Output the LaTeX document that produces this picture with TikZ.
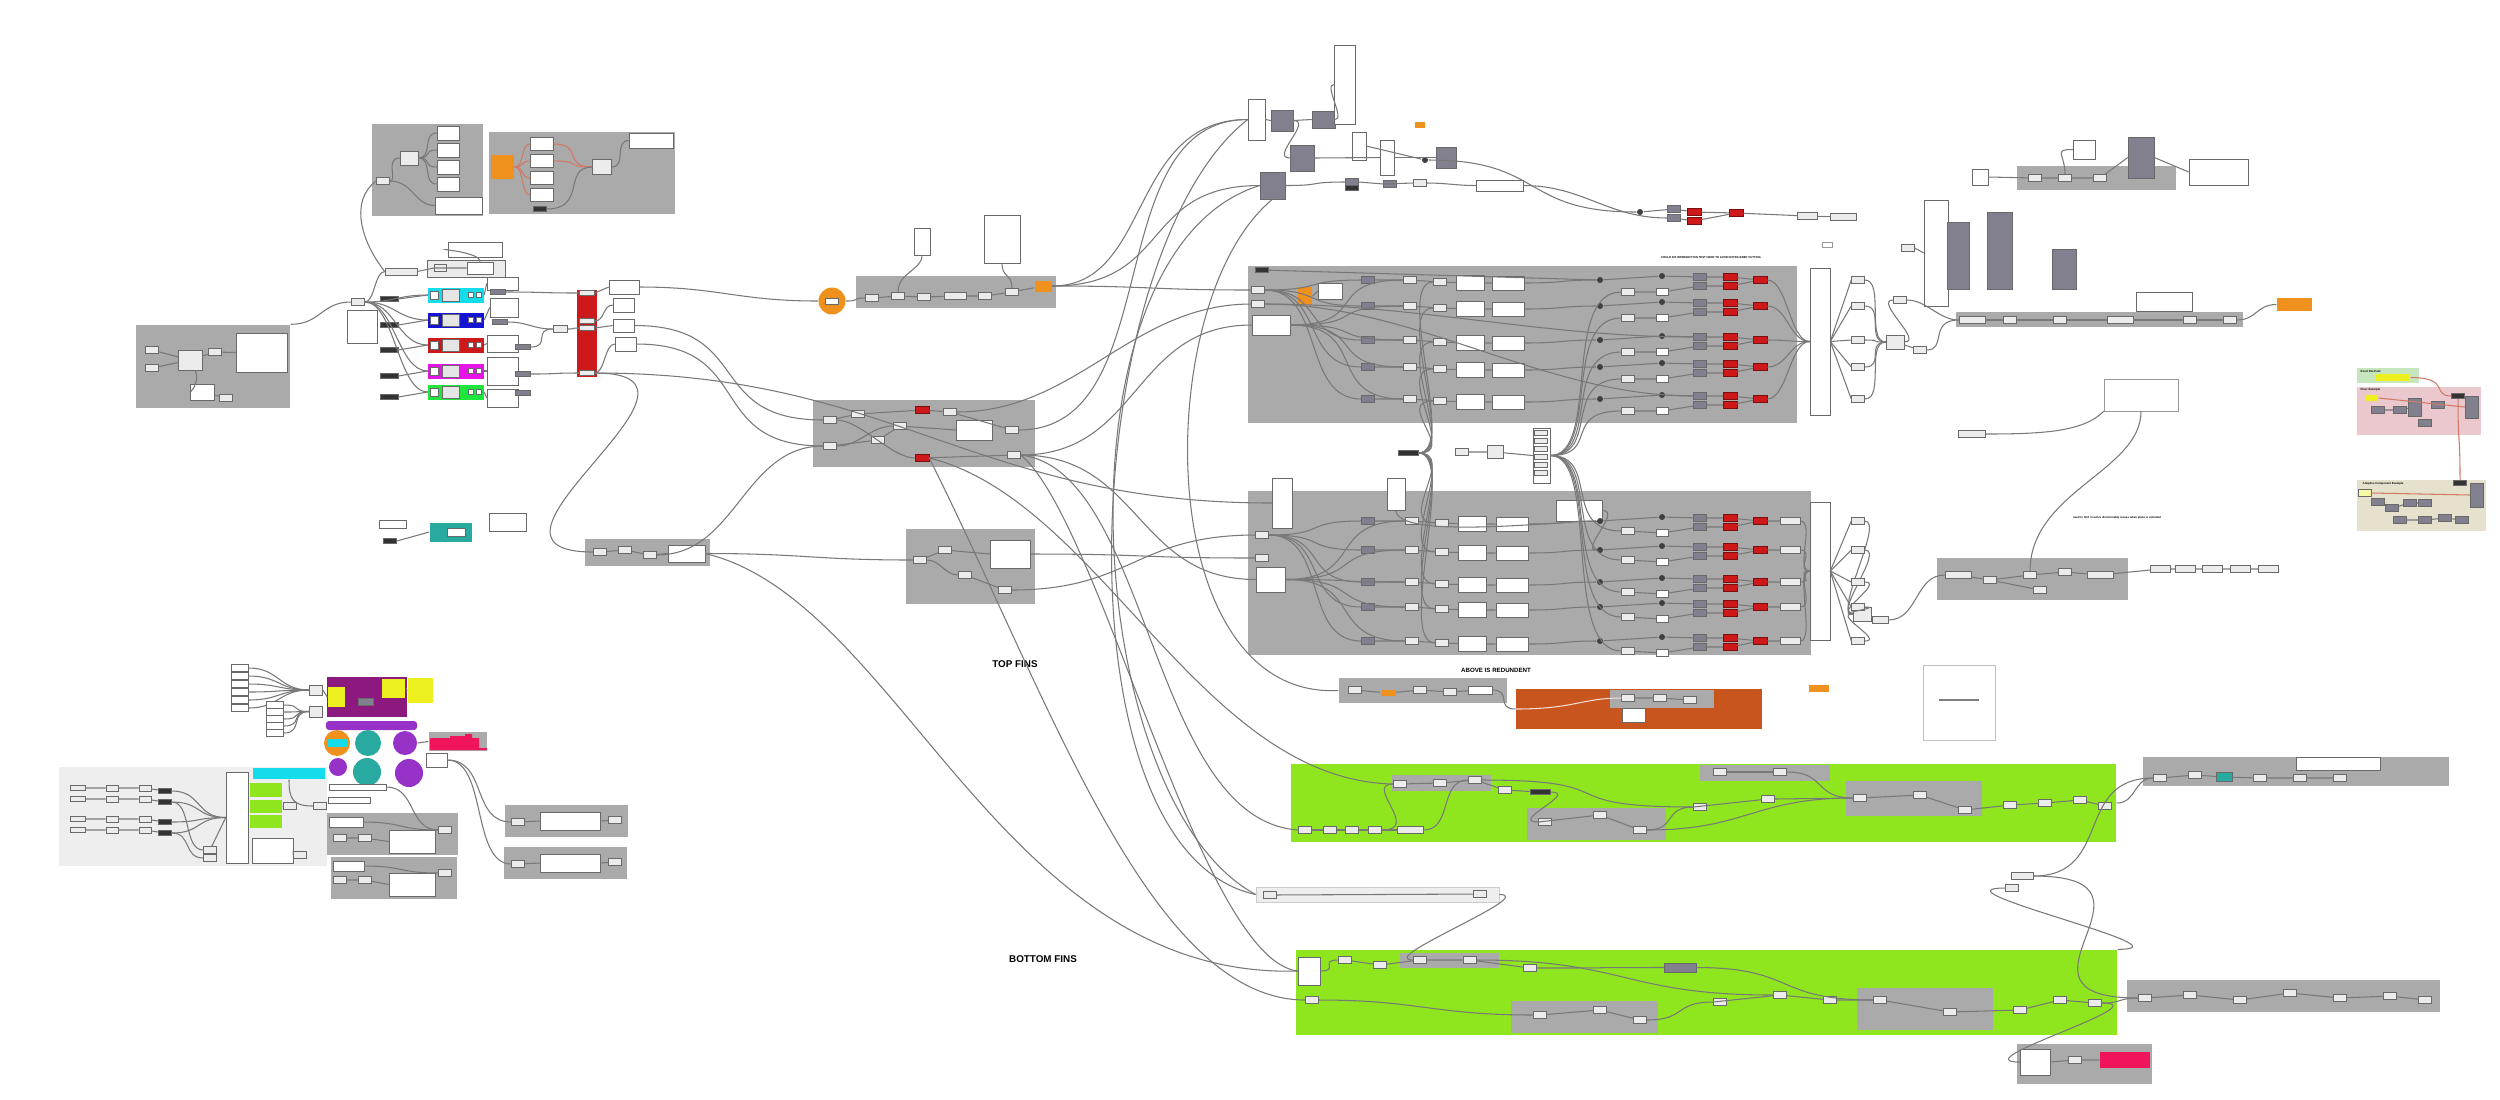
\documentclass[tikz,border=0pt]{standalone}
\usepackage{fontspec}
\setmainfont{Liberation Sans}
\usetikzlibrary{fit,positioning}
\definecolor{grpgray}{RGB}{170,170,170}
\definecolor{lightarea}{RGB}{238,238,238}
\definecolor{limegrp}{RGB}{143,230,30}
\definecolor{rustgrp}{RGB}{200,85,30}
\definecolor{compred}{RGB}{205,25,25}
\definecolor{compdark}{RGB}{130,128,142}
\definecolor{compline}{RGB}{105,105,105}
\definecolor{compfill}{RGB}{236,236,236}
\definecolor{wiregray}{RGB}{120,120,120}
\definecolor{ghorange}{RGB}{240,145,30}
\definecolor{ghcyan}{RGB}{20,220,235}
\definecolor{ghblue}{RGB}{20,20,210}
\definecolor{ghmagenta}{RGB}{230,20,230}
\definecolor{ghgreen}{RGB}{30,230,60}
\definecolor{ghpurple}{RGB}{140,25,125}
\definecolor{ghviolet}{RGB}{150,50,200}
\definecolor{ghteal}{RGB}{40,170,160}
\definecolor{ghyellow}{RGB}{235,240,30}
\definecolor{ghpink}{RGB}{240,20,90}
\definecolor{xlgreen}{RGB}{200,230,190}
\definecolor{xlpink}{RGB}{235,200,205}
\definecolor{xlbeige}{RGB}{230,225,205}
\definecolor{redwire}{RGB}{210,120,100}
\tikzset{
  grp/.style={fill=grpgray, inner sep=0pt},
  comp/.style={draw=compline, fill=compfill, line width=0.15pt, inner sep=0pt, minimum width=1.3mm, minimum height=0.7mm},
  panel/.style={draw=compline, fill=white, line width=0.15pt, inner sep=0pt},
  dcomp/.style={comp, fill=compdark},
  rcomp/.style={comp, draw=compred!60!black, fill=compred, minimum width=1.4mm},
  blk/.style={comp, fill=black!80, minimum width=1.3mm, minimum height=0.5mm},
  dot/.style={circle, fill=black!75, inner sep=0pt, minimum size=0.6mm},
  wire/.style={draw=wiregray, line width=0.3pt},
  fins/.style={font=\bfseries\fontsize{2.8}{3}\selectfont},
  note/.style={font=\bfseries\fontsize{0.8}{1}\selectfont, inner sep=0pt},
}
\begin{document}
\begin{tikzpicture}[x=0.01cm,y=-0.01cm]
\useasboundingbox (0,0) rectangle (2500,1099);
\fill[white] (0,0) rectangle (2500,1099);

% left side groups
\node[grp, fit={(136,325) (290,408)}] (lgrp) {};
\node[panel, fit={(236,333) (287,372)}] (lnote) {};
\node[comp] (lin1) at (152,350) {};
\node[comp] (lin2) at (152,368) {};
\node[comp, minimum width=2.4mm, minimum height=2mm] (lmid) at (190,360) {};
\node[comp] (lsel) at (215,352) {};
\node[panel, minimum width=2.4mm, minimum height=1.6mm] (llist) at (202,392) {};
\node[comp] (lout) at (226,398) {};
\draw[wire] (lin1) -- (lmid); \draw[wire] (lin2) -- (lmid);
\draw[wire] (lmid) -- (lsel) -- (lnote.west);
\draw[wire] (lmid) .. controls +(10,20) and +(-10,0) .. (llist); \draw[wire] (llist) -- (lout);

\node[grp, fit={(372,124) (483,216)}] (tlgrp) {};
\node[comp] (tlin) at (383,181) {};
\node[comp, minimum width=1.8mm, minimum height=1.4mm] (tlcmp) at (409,158) {};
\foreach \i/\y in {1/133,2/150,3/167,4/184} {
  \node[panel, minimum width=2.2mm, minimum height=1.4mm] (tlb\i) at (448,\y) {};
  \draw[wire] (tlcmp.east) .. controls +(15,0) and +(-15,0) .. (tlb\i.west);
}
\node[panel, fit={(435,197) (482,214)}] (tlpanel) {};
\draw[wire] (tlin) .. controls +(15,0) and +(-15,0) .. (tlcmp.west);
\draw[wire] (tlin) .. controls +(30,0) and +(-20,0) .. (tlpanel.west);

\node[grp, fit={(489,132) (675,214)}] (ogrp) {};
\node[fill=ghorange, fit={(491,155) (514,179)}, inner sep=0pt] (oblk) {};
\foreach \i/\y in {1/144,2/161,3/178,4/195} {
  \node[panel, minimum width=2.3mm, minimum height=1.3mm] (ob\i) at (542,\y) {};
  \draw[draw=redwire, line width=0.3pt] (oblk.east) .. controls +(10,0) and +(-10,0) .. (ob\i.west);
}
\node[comp, minimum width=1.9mm, minimum height=1.5mm] (ocmp) at (602,167) {};
\node[panel, fit={(629,133) (673,148)}] (opanel) {};
\node[blk] (olbl) at (540,209) {};
\draw[draw=redwire, line width=0.3pt] (ob1.east) .. controls +(30,0) and +(-30,0) .. (ocmp.west);
\draw[draw=redwire, line width=0.3pt] (ob2.east) .. controls +(30,0) and +(-30,0) .. (ocmp.west);
\draw[wire] (olbl.east) .. controls +(40,0) and +(-30,0) .. (ocmp.west);
\draw[wire] (ocmp.east) .. controls +(15,0) and +(-15,0) .. (opanel.west);

% colored bars
\node[panel, fit={(448,242) (502,257)}] (hlist) {};
\node[fill=black!8, draw=compline, line width=0.15pt, fit={(427,260) (505,277)}, inner sep=0pt] (hgrp) {};
\node[comp, minimum width=1.2mm] (hg1) at (440,268) {};
\node[panel, minimum width=2.6mm, minimum height=1.2mm] (hg2) at (480,268) {};
\node[comp, fit={(385,269) (417,274)}] (hsel) {};
\draw[wire] (hg2.north) .. controls +(0,-10) and +(-10,0) .. (hlist.west);
\draw[wire] (hsel.east) -- (hg1.west) -- (hg2.west);
\draw[wire] (hsel.west) .. controls (360,240) and (350,200) .. (tlin.west);
\node[panel, fit={(347,310) (377,343)}] (lk1) {};
\node[comp] (lk2) at (358,302) {};
\draw[wire] (lgrp.north east) .. controls +(30,0) and +(-30,0) .. (lk2.west);
\draw[wire] (lk2.east) .. controls +(10,0) and +(-10,0) .. (hsel.west);
\node[fill=compred, fit={(577,290) (597,377)}, inner sep=0pt] (rbar) {};
\foreach \i/\y in {1/293,2/321,3/328,4/373} {
  \node[comp, minimum width=1.5mm, minimum height=0.5mm] (rb\i) at (587,\y) {};
}
\foreach \i/\y/\c/\ly in {1/295/ghcyan/299,2/320/ghblue/325,3/345/compred/350,4/371/ghmagenta/376,5/392/ghgreen/397} {
  \node[blk, minimum width=1.8mm] (lbl\i) at (389,\ly) {};
  \node[fill=\c, minimum width=5.5mm, minimum height=1.5mm, inner sep=0pt] (bar\i) at (456,\y) {};
  \node[panel, minimum width=0.8mm, minimum height=0.8mm] (barw\i) at (434,\y) {};
  \node[comp, fill=black!10, minimum width=1.7mm, minimum height=1.2mm] (barin\i) at (451,\y) {};
  \node[panel, minimum width=0.5mm, minimum height=0.5mm] (barc\i) at (471,\y) {};
  \node[panel, minimum width=0.5mm, minimum height=0.5mm] (bard\i) at (479,\y) {};
  \draw[wire] (lbl\i.east) -- (bar\i.west);
  \draw[wire] (lk2.east) .. controls +(30,0) and +(-30,0) .. (bar\i.west);
}
\node[panel, fit={(487,277) (518,290)}] (bl1) {};
\node[panel, fit={(490,298) (518,317)}] (bl2) {};
\node[panel, fit={(487,335) (518,352)}] (bl3) {};
\node[panel, fit={(487,357) (518,385)}] (bl4) {};
\node[panel, fit={(487,389) (518,407)}] (bl5) {};
\node[dcomp, minimum width=1.5mm, minimum height=0.5mm] (bk1) at (498,292) {};
\node[dcomp, minimum width=1.5mm, minimum height=0.5mm] (bk2) at (500,322) {};
\node[dcomp, minimum width=1.5mm, minimum height=0.5mm] (bk3) at (523,347) {};
\node[dcomp, minimum width=1.5mm, minimum height=0.5mm] (bk4) at (523,374) {};
\node[dcomp, minimum width=1.5mm, minimum height=0.5mm] (bk5) at (523,393) {};
\node[comp, minimum width=1.4mm] (bsel) at (560,329) {};
\foreach \i in {1,...,5} {\draw[wire] (bar\i.east) -- (bl\i.west);}
\draw[wire] (bk1.east) .. controls +(40,0) and +(-40,0) .. (rb1.west);
\draw[wire] (bk2.east) .. controls +(20,0) and +(-20,0) .. (bsel.west);
\draw[wire] (bk3.east) .. controls +(20,0) and +(-20,0) .. (bsel.west);
\draw[wire] (bsel.east) .. controls +(10,0) and +(-10,0) .. (rb3.west);
\draw[wire] (bk4.east) .. controls +(30,0) and +(-30,0) .. (rb4.west);
\node[panel, fit={(609,280) (639,294)}] (rbo1) {};
\node[panel, fit={(613,298) (634,312)}] (rbo2) {};
\node[panel, fit={(613,319) (634,332)}] (rbo3) {};
\node[panel, fit={(615,337) (636,351)}] (rbo4) {};
\draw[wire] (rb1.east) -- (rbo1.west);
\draw[wire] (rb2.east) .. controls +(10,0) and +(-10,0) .. (rbo2.west);
\draw[wire] (rb3.east) -- (rbo3.west);
\draw[wire] (rb4.east) .. controls +(10,0) and +(-10,0) .. (rbo4.west);

% middle left groups
\node[circle, fill=ghorange, minimum size=2.7mm, inner sep=0pt] (orb) at (832,301) {};
\node[panel, minimum width=1.3mm, minimum height=0.6mm] (orbin) at (832,301) {};
\node[grp, fit={(856,276) (1056,308)}] (g7) {};
\node[comp] (g7a) at (872,298) {};
\node[comp] (g7b) at (898,296) {};
\node[comp] (g7c) at (924,297) {};
\node[comp, minimum width=2.2mm] (g7d) at (955,296) {};
\node[comp] (g7e) at (985,296) {};
\node[comp] (g7f) at (1012,292) {};
\node[fill=ghorange, minimum width=1.7mm, minimum height=1.1mm, inner sep=0pt] (g7o) at (1043,286) {};
\draw[wire] (g7a) -- (g7b) -- (g7c) -- (g7d) -- (g7e) -- (g7f) -- (g7o);
\node[panel, fit={(984,215) (1020,263)}] (g7list) {};
\node[panel, fit={(914,228) (930,255)}] (g7list2) {};
\draw[wire] (g7f.north) .. controls +(0,-15) and +(0,15) .. (g7list.south);
\draw[wire] (g7b.north) .. controls +(0,-20) and +(0,15) .. (g7list2.south);
\draw[wire] (rbo1.east) .. controls +(80,0) and +(-80,0) .. (orb.west);
\draw[wire] (orb.east) .. controls +(15,0) and +(-15,0) .. (g7a.west);

\node[grp, fit={(813,400) (1035,467)}] (g8) {};
\node[comp] (g8a) at (830,420) {};
\node[comp] (g8b) at (830,446) {};
\node[comp] (g8c) at (858,414) {};
\node[comp] (g8d) at (878,440) {};
\node[comp] (g8e) at (900,426) {};
\node[rcomp] (g8r1) at (922,410) {};
\node[rcomp] (g8r2) at (922,458) {};
\node[comp] (g8f) at (950,412) {};
\node[panel, fit={(956,420) (992,440)}] (g8p) {};
\node[comp] (g8g) at (1012,430) {};
\node[comp] (g8h) at (1014,455) {};
\draw[wire] (g8a) -- (g8c) -- (g8r1) -- (g8f) -- (g8g);
\draw[wire] (g8b) -- (g8d) -- (g8e) -- (g8p.west);
\draw[wire] (g8a) .. controls +(30,0) and +(-30,0) .. (g8r2) -- (g8h);
\draw[wire] (g8b) .. controls +(30,0) and +(-30,0) .. (g8e);
\draw[wire] (rbo3.east) .. controls +(120,0) and +(-120,0) .. (g8a.west);
\draw[wire] (rbo4.east) .. controls +(120,0) and +(-120,0) .. (g8b.west);

\node[grp, fit={(585,539) (710,566)}] (g9) {};
\node[comp] (g9a) at (600,552) {};
\node[comp] (g9b) at (625,550) {};
\node[comp] (g9c) at (650,555) {};
\node[panel, fit={(668,545) (705,562)}] (g9p) {};
\draw[wire] (g9a) -- (g9b) -- (g9c) -- (g9p.west);
\draw[wire] (rb4.east) .. controls +(150,0) and +(-150,0) .. (g9a.west);
\draw[wire] (g9c.east) .. controls +(80,0) and +(-80,0) .. (g8b.west);

\node[grp, fit={(906,529) (1035,604)}] (g11) {};
\node[comp] (g11a) at (920,560) {};
\node[comp] (g11b) at (945,550) {};
\node[comp] (g11c) at (965,575) {};
\node[panel, fit={(990,540) (1030,568)}] (g11p) {};
\node[comp] (g11d) at (1005,590) {};
\draw[wire] (g11a) -- (g11b) -- (g11p.west);
\draw[wire] (g11a) .. controls +(20,0) and +(-20,0) .. (g11c) -- (g11d);
\draw[wire] (g9p.east) .. controls +(100,0) and +(-100,0) .. (g11a.west);

\node[fill=ghteal, minimum width=4.2mm, minimum height=1.9mm, inner sep=0pt] (teal) at (451,532) {};
\node[panel, minimum width=1.8mm, minimum height=0.8mm] (tealin) at (456,532) {};
\node[panel, minimum width=2.7mm, minimum height=0.8mm] (tlw) at (393,524) {};
\node[blk] (tld) at (390,541) {};
\node[panel, fit={(489,513) (526,531)}] (tlp) {};
\draw[wire] (tld.east) -- (teal.west);

% top cluster
\node[panel, fit={(1248,99) (1265,140)}] (tc1) {};
\node[dcomp, fit={(1271,110) (1293,131)}] (tc2) {};
\node[dcomp, fit={(1312,111) (1335,128)}] (tc3) {};
\node[panel, fit={(1334,45) (1355,124)}] (tc4) {};
\node[panel, fit={(1352,132) (1366,160)}] (tc5) {};
\node[dcomp, fit={(1290,145) (1314,171)}] (tc6) {};
\node[dcomp, fit={(1260,172) (1285,199)}] (tc7) {};
\node[dcomp, fit={(1436,147) (1456,168)}] (tc8) {};
\node[panel, fit={(1380,140) (1394,175)}] (tc9) {};
\node[fill=ghorange, minimum width=1mm, minimum height=0.6mm, inner sep=0pt] (tc10) at (1420,125) {};
\node[dcomp] (tc11) at (1352,182) {};
\node[blk] (tc12) at (1352,188) {};
\node[dcomp] (tc13) at (1390,184) {};
\node[comp] (tc14) at (1420,183) {};
\node[panel, fit={(1476,180) (1523,191)}] (tc15) {};
\node[dot] (tc18) at (1425,160) {};
\draw[wire] (tc1.east) -- (tc2.west); \draw[wire] (tc2.east) -- (tc3.west);
\draw[wire] (tc3.east) .. controls +(10,0) and +(-10,0) .. (tc4.west);
\draw[wire] (tc2.east) .. controls +(20,0) and +(-20,0) .. (tc6.west);
\draw[wire] (tc6.east) -- (tc9.west);
\draw[wire] (tc7.east) .. controls +(40,0) and +(-40,0) .. (tc11.west);
\draw[wire] (tc11.east) -- (tc13.west) -- (tc14.west);
\draw[wire] (tc14.east) .. controls +(20,0) and +(-20,0) .. (tc15.west);
\draw[wire] (tc9.east) .. controls +(20,0) and +(-20,0) .. (tc8.west);
\draw[wire] (tc5.east) -- (tc18);
\draw[wire] (g7o.east) .. controls +(100,0) and +(-120,0) .. (tc1.west);
\draw[wire] (g7o.east) .. controls +(120,0) and +(-120,0) .. (tc7.west);
\draw[wire] (g8g.east) .. controls +(150,0) and +(-150,0) .. (tc1.west);

% top red boxes
\node[dot] (tr0) at (1640,212) {};
\node[dcomp] (tr1) at (1674,209) {};
\node[dcomp] (tr2) at (1674,218) {};
\node[rcomp] (tr3) at (1694,212) {};
\node[rcomp] (tr4) at (1694,221) {};
\node[rcomp] (tr5) at (1736,213) {};
\node[comp, minimum width=2mm] (tr6) at (1807,216) {};
\node[comp, minimum width=2.6mm] (tr7) at (1843,217) {};
\draw[wire] (tr0) -- (tr1) -- (tr3) -- (tr5) -- (tr6) -- (tr7);
\draw[wire] (tr2) -- (tr4) -- (tr5);
\draw[wire] (tc18) .. controls +(120,0) and +(-120,0) .. (tr0);
\draw[wire] (tc15.east) .. controls +(60,0) and +(-60,0) .. (tr2.west);
\node[note] (coulddo) at (1711,258) {COULD DO INTERSECTION TEST HERE TO AVOID EXTRA BREP CUTTING};
\node[panel, draw=black!40, minimum width=1mm, minimum height=0.5mm] (tparen) at (1827,245) {};

% top big group
\node[grp, fit={(1248,266) (1797,423)}] (topgrp) {};
\node[fill=ghorange, fit={(1298,287) (1312,305)}, inner sep=0pt] (topor) {};
\node[panel, fit={(1318,283) (1342,299)}] (toppan) {};
\node[comp] (tin1) at (1258,290) {};
\node[comp] (tin2) at (1258,304) {};
\node[panel, fit={(1252,315) (1290,335)}] (tinl) {};
\node[blk] (tin3) at (1262,270) {};
\draw[wire] (topor.east) -- (toppan.west);
\node[panel, fit={(1810,268) (1830,415)}] (tcol) {};
\node[comp, minimum width=1.8mm, minimum height=1.4mm] (tmrg) at (1895,342) {};
\node[comp] (tmrg2) at (1920,350) {};
\draw[wire] (tmrg) -- (tmrg2);
\foreach \r/\y in {1/280,2/306,3/340,4/367,5/399} {
  \node[dcomp] (ta\r) at (1368,\y) {};
  \node[comp] (tb\r) at (1410,\y) {};
  \node[comp] (tc\r x) at (1440,{\y+2}) {};
  \node[panel, minimum width=2.8mm, minimum height=1.5mm] (td\r) at (1470,{\y+3}) {};
  \node[panel, minimum width=3.2mm, minimum height=1.4mm] (te\r) at (1508,{\y+3}) {};
  \node[dot] (tf\r) at (1600,\y) {};
  \node[comp] (tg\r) at (1628,{\y+12}) {};
  \node[panel, minimum width=1.2mm, minimum height=0.7mm] (th\r) at (1662,{\y+12}) {};
  \node[dot] (ti\r) at (1662,{\y-4}) {};
  \node[dcomp] (tj\r) at (1700,{\y-3}) {};
  \node[dcomp] (tk\r) at (1700,{\y+6}) {};
  \node[rcomp] (tl\r) at (1730,{\y-3}) {};
  \node[rcomp] (tm\r) at (1730,{\y+6}) {};
  \node[rcomp] (tn\r) at (1760,\y) {};
  \node[comp] (to\r) at (1858,\y) {};
  \draw[wire] (ta\r) -- (tb\r) -- (tc\r x) -- (td\r) -- (te\r);
  \draw[wire] (te\r.east) .. controls +(40,0) and +(-40,0) .. (tf\r);
  \draw[wire] (tf\r) -- (ti\r) -- (tj\r) -- (tl\r) -- (tn\r);
  \draw[wire] (tg\r) -- (th\r) -- (tk\r) -- (tm\r) -- (tn\r);
  \draw[wire] (tin1.east) .. controls +(60,0) and +(-60,0) .. (ta\r.west);
  \draw[wire] (tinl.east) .. controls +(80,0) and +(-80,0) .. (tb\r.west);
  \draw[wire] (tn\r.east) .. controls +(20,0) and +(-20,0) .. (tcol.west);
  \draw[wire] (tcol.east) -- (to\r.west);
  \draw[wire] (to\r.east) .. controls +(20,0) and +(-20,0) .. (tmrg.west);
}
\draw[wire] (tin3) -- (tf1);
\draw[wire] (tin2.east) .. controls +(150,0) and +(-150,0) .. (tj3.west);
\draw[wire] (tin2.east) .. controls +(150,0) and +(-150,0) .. (tj5.west);
\draw[wire] (g8f.east) .. controls +(120,0) and +(-120,0) .. (tin2.west);
\draw[wire] (g8h.east) .. controls +(120,0) and +(-120,0) .. (tinl.west);
\draw[wire] (g7o.east) .. controls +(100,0) and +(-100,0) .. (tin1.west);

% middle column
\node[panel, fit={(1533,428) (1550,483)}] (mstack) {};
\foreach \i in {1,...,6} {\node[comp, minimum width=1.3mm, minimum height=0.5mm] (ms\i) at (1541,{425+\i*8}) {};}
\node[comp, minimum width=1.6mm, minimum height=1.3mm] (mcmp) at (1495,452) {};
\node[blk, minimum width=2mm] (mdark) at (1408,453) {};
\node[comp, minimum width=1.3mm] (mleft) at (1462,452) {};
\draw[wire] (mleft) -- (mcmp) -- (mstack.west);

% bottom big group
\node[grp, fit={(1248,491) (1811,655)}] (botgrp) {};
\node[panel, fit={(1272,478) (1292,528)}] (blist) {};
\node[panel, fit={(1387,478) (1405,510)}] (blist2) {};
\node[comp] (bin1) at (1262,535) {};
\node[comp] (bin2) at (1262,558) {};
\node[panel, fit={(1256,567) (1285,592)}] (binp) {};
\node[panel, fit={(1556,500) (1602,521)}] (btab) {};
\node[panel, fit={(1810,502) (1830,640)}] (bcol) {};
\node[comp, minimum width=1.8mm, minimum height=1.4mm] (bmrg) at (1862,614) {};
\node[comp, minimum width=1.6mm] (bmrg2) at (1880,620) {};
\draw[wire] (bmrg) -- (bmrg2);
\foreach \r/\y in {1/521,2/550,3/582,4/607,5/641} {
  \node[dcomp] (ba\r) at (1368,\y) {};
  \node[comp] (bb\r) at (1412,\y) {};
  \node[comp] (bc\r) at (1442,{\y+2}) {};
  \node[panel, minimum width=2.8mm, minimum height=1.5mm] (bd\r) at (1472,{\y+3}) {};
  \node[panel, minimum width=3.2mm, minimum height=1.4mm] (be\r) at (1512,{\y+3}) {};
  \node[dot] (bf\r) at (1600,\y) {};
  \node[comp] (bg\r) at (1628,{\y+10}) {};
  \node[panel, minimum width=1.2mm, minimum height=0.7mm] (bh\r) at (1662,{\y+12}) {};
  \node[dot] (bi\r) at (1662,{\y-4}) {};
  \node[dcomp] (bj\r) at (1700,{\y-3}) {};
  \node[dcomp] (bk\r) at (1700,{\y+6}) {};
  \node[rcomp] (bl\r) at (1730,{\y-3}) {};
  \node[rcomp] (bm\r) at (1730,{\y+6}) {};
  \node[rcomp] (bn\r) at (1760,\y) {};
  \node[comp, minimum width=2mm] (bo\r) at (1790,\y) {};
  \node[comp] (bq\r) at (1858,\y) {};
  \draw[wire] (ba\r) -- (bb\r) -- (bc\r) -- (bd\r) -- (be\r);
  \draw[wire] (be\r.east) .. controls +(40,0) and +(-40,0) .. (bf\r);
  \draw[wire] (bf\r) -- (bi\r) -- (bj\r) -- (bl\r) -- (bn\r) -- (bo\r);
  \draw[wire] (bg\r) -- (bh\r) -- (bk\r) -- (bm\r) -- (bn\r);
  \draw[wire] (bin1.east) .. controls +(60,0) and +(-60,0) .. (ba\r.west);
  \draw[wire] (binp.east) .. controls +(80,0) and +(-80,0) .. (bb\r.west);
  \draw[wire] (bo\r.east) .. controls +(15,0) and +(-15,0) .. (bcol.west);
  \draw[wire] (bcol.east) -- (bq\r.west);
  \draw[wire] (bq\r.east) .. controls +(20,0) and +(-20,0) .. (bmrg.west);
  \draw[wire] (mstack.east) .. controls +(50,0) and +(-60,0) .. (tg\r.west);
  \draw[wire] (mstack.east) .. controls +(50,0) and +(-60,0) .. (bg\r.west);
  \draw[wire] (mdark.east) .. controls +(40,0) and +(-40,0) .. (tc\r x.west);
  \draw[wire] (mdark.east) .. controls +(40,0) and +(-40,0) .. (bc\r.west);
}
\draw[wire] (blist2.south) .. controls +(0,30) and +(-40,0) .. (bf1);
\draw[wire] (btab.east) .. controls +(20,0) and +(-20,0) .. (bf2);
\draw[wire] (g11d.east) .. controls +(120,0) and +(-120,0) .. (bin1.west);
\draw[wire] (g11p.east) .. controls +(120,0) and +(-120,0) .. (bin2.west);
\draw[wire] (g8h.east) .. controls +(120,0) and +(-120,0) .. (binp.west);
\draw[wire] (rb4.east) .. controls +(300,0) and +(-300,0) .. (blist.west);

% redundant groups
\node[grp, fit={(1339,678) (1507,703)}] (orgrp2) {};
\node[fill=ghorange, minimum width=1.5mm, minimum height=0.6mm, inner sep=0pt] (or2o) at (1388,693) {};
\node[comp] (or2a) at (1355,690) {};
\node[comp] (or2b) at (1420,690) {};
\node[comp] (or2c) at (1450,692) {};
\node[panel, minimum width=2.4mm, minimum height=0.8mm] (or2d) at (1480,690) {};
\draw[wire] (or2a) -- (or2o) -- (or2b) -- (or2c) -- (or2d);
\node[fill=rustgrp, fit={(1516,689) (1762,729)}, inner sep=0pt] (orgrp) {};
\node[fill=grpgray, fit={(1610,690) (1714,708)}, inner sep=0pt] (orin) {};
\node[panel, fit={(1622,708) (1645,722)}] (orpan) {};
\node[comp] (orc1) at (1628,698) {};
\node[comp] (orc2) at (1660,698) {};
\node[comp] (orc3) at (1690,700) {};
\draw[wire] (orc1) -- (orc2) -- (orc3);
\draw[draw=white!80!rustgrp, line width=0.3pt] (orgrp.west) .. controls +(60,0) and +(-40,0) .. (orc1.west);
\node[fill=ghorange, minimum width=2mm, minimum height=0.7mm, inner sep=0pt] (orsm) at (1819,688) {};
\draw[wire] (or2d.east) .. controls +(20,0) and +(-20,0) .. (orgrp.west);
\draw[wire] (tc7.south) .. controls (1150,300) and (1150,700) .. (orgrp2.west);
\node[fins] (redundent) at (1496,670) {\fontsize{1.75}{2}\selectfont ABOVE IS REDUNDENT};

% labels
\node[fins] (topfins) at (1015,664) {TOP FINS};
\node[fins] (botfins) at (1043,959) {BOTTOM FINS};

% green group top fins
\node[fill=limegrp, fit={(1291,764) (2116,842)}, inner sep=0pt] (gg1) {};
\node[grp, fit={(1392,775) (1491,791)}] (gg1a) {};
\node[grp, fit={(1700,765) (1830,781)}] (gg1b) {};
\node[grp, fit={(1527,808) (1666,840)}] (gg1c) {};
\node[grp, fit={(1846,781) (1982,816)}] (gg1d) {};
\node[comp] (g1in) at (1305,830) {};
\node[comp] (g1c1) at (1330,830) {};
\node[comp] (g1c2) at (1352,830) {};
\node[comp] (g1c3) at (1375,830) {};
\node[comp, minimum width=2.6mm] (g1c4) at (1410,830) {};
\node[comp] (g1c5) at (1400,784) {};
\node[comp] (g1c6) at (1440,783) {};
\node[comp] (g1c7) at (1475,780) {};
\node[comp] (g1c8) at (1505,790) {};
\node[blk, minimum width=2mm] (g1c9) at (1540,792) {};
\node[comp] (g1c10) at (1545,822) {};
\node[comp] (g1c11) at (1600,815) {};
\node[comp] (g1c12) at (1640,830) {};
\node[comp] (g1c13) at (1720,772) {};
\node[comp] (g1c14) at (1780,772) {};
\node[comp] (g1c15) at (1700,807) {};
\node[comp] (g1c16) at (1768,799) {};
\node[comp] (g1c17) at (1860,798) {};
\node[comp] (g1c18) at (1920,795) {};
\node[comp] (g1c19) at (1965,810) {};
\node[comp] (g1c20) at (2010,805) {};
\node[comp] (g1c21) at (2045,803) {};
\node[comp] (g1c22) at (2080,800) {};
\node[comp] (g1c23) at (2105,806) {};
\draw[wire] (g1in) -- (g1c1) -- (g1c2) -- (g1c3) -- (g1c4);
\draw[wire] (g1c4.east) .. controls +(30,0) and +(-30,0) .. (g1c7.west);
\draw[wire] (g1c3.east) .. controls +(40,0) and +(-30,0) .. (g1c5.west);
\draw[wire] (g1c5) -- (g1c6) -- (g1c7) -- (g1c8) -- (g1c9);
\draw[wire] (g1c9.east) .. controls +(30,0) and +(-30,0) .. (g1c10.west) -- (g1c11) -- (g1c12);
\draw[wire] (g1c7.east) .. controls +(150,0) and +(-150,0) .. (g1c15.west);
\draw[wire] (g1c12.east) .. controls +(30,0) and +(-30,0) .. (g1c15.west) -- (g1c16);
\draw[wire] (g1c13) -- (g1c14);
\draw[wire] (g1c14.east) .. controls +(40,0) and +(-40,0) .. (g1c17.west);
\draw[wire] (g1c16.east) .. controls +(40,0) and +(-40,0) .. (g1c17.west);
\draw[wire] (g1c12.east) .. controls +(100,0) and +(-100,0) .. (g1c17.west);
\draw[wire] (g1c17) -- (g1c18) -- (g1c19) -- (g1c20) -- (g1c21) -- (g1c22) -- (g1c23);
\draw[wire] (g8h.east) .. controls (1150,470) and (1150,820) .. (g1in.west);
\draw[wire] (g8r2.east) .. controls (1100,500) and (1200,780) .. (g1c5.west);

% gray strip and green group bottom fins
\node[fill=lightarea, draw=black!20, line width=0.2pt, fit={(1256,887) (1499,902)}, inner sep=0pt] (strip) {};
\node[comp] (st1) at (1270,895) {};
\node[comp] (st2) at (1480,894) {};
\draw[wire] (st1) -- (st2);
\draw[wire] (tc7.west) .. controls (1050,250) and (1080,800) .. (strip.west);
\draw[wire] (tc1.west) .. controls (1080,250) and (1050,850) .. (strip.west);
\node[fill=limegrp, fit={(1296,950) (2117,1035)}, inner sep=0pt] (gg2) {};
\node[grp, fit={(1400,953) (1499,968)}] (gg2a) {};
\node[grp, fit={(1511,1001) (1658,1033)}] (gg2b) {};
\node[grp, fit={(1857,988) (1993,1030)}] (gg2c) {};
\node[dcomp, fit={(1664,963) (1696,972)}] (gg2d) {};
\node[panel, fit={(1298,957) (1320,985)}] (g2in) {};
\node[comp] (g2c1) at (1312,1000) {};
\node[comp] (g2c2) at (1345,960) {};
\node[comp] (g2c3) at (1380,965) {};
\node[comp] (g2c4) at (1420,960) {};
\node[comp] (g2c5) at (1470,960) {};
\node[comp] (g2c6) at (1530,968) {};
\node[comp] (g2c7) at (1540,1015) {};
\node[comp] (g2c8) at (1600,1010) {};
\node[comp] (g2c9) at (1640,1020) {};
\node[comp] (g2c10) at (1720,1002) {};
\node[comp] (g2c11) at (1780,995) {};
\node[comp] (g2c12) at (1830,1000) {};
\node[comp] (g2c13) at (1880,1000) {};
\node[comp] (g2c14) at (1950,1012) {};
\node[comp] (g2c15) at (2020,1010) {};
\node[comp] (g2c16) at (2060,1000) {};
\node[comp] (g2c17) at (2095,1003) {};
\draw[wire] (g2in.east) .. controls +(20,0) and +(-20,0) .. (g2c2.west);
\draw[wire] (g2c2) -- (g2c3) -- (g2c4) -- (g2c5) -- (g2c6);
\draw[wire] (g2c6.east) .. controls +(100,0) and +(-100,0) .. (gg2d.west);
\draw[wire] (g2c1.east) .. controls +(100,0) and +(-100,0) .. (g2c7.west);
\draw[wire] (g2c7) -- (g2c8) -- (g2c9);
\draw[wire] (g2c9.east) .. controls +(40,0) and +(-40,0) .. (g2c10.west) -- (g2c11) -- (g2c12) -- (g2c13) -- (g2c14) -- (g2c15) -- (g2c16) -- (g2c17);
\draw[wire] (gg2d.east) .. controls +(100,0) and +(-100,0) .. (g2c13.west);
\draw[wire] (g2c5.east) .. controls +(150,0) and +(-150,0) .. (g2c11.west);
\draw[wire] (strip.east) .. controls +(40,0) and +(-40,0) .. (g2c4.west);
\draw[wire] (g8h.east) .. controls (1100,520) and (1200,960) .. (g2in.west);
\draw[wire] (g8r2.east) .. controls (1050,700) and (1150,1000) .. (g2c1.west);
\draw[wire] (g9p.east) .. controls (900,600) and (1000,980) .. (g2in.west);

% right side
\node[panel, fit={(1924,200) (1948,306)}] (rlist) {};
\node[dcomp, fit={(1947,222) (1969,289)}] (rg1) {};
\node[dcomp, fit={(1987,212) (2012,289)}] (rg2) {};
\node[dcomp, fit={(2052,249) (2076,289)}] (rg3) {};
\node[comp] (rc1) at (1900,300) {};
\node[comp] (rc2) at (1908,248) {};
\draw[wire] (tmrg.east) .. controls +(20,0) and +(-20,0) .. (rc1.west);
\draw[wire] (rc2.east) -- (rlist.west);
\node[grp, fit={(1956,312) (2243,327)}] (rrow) {};
\node[panel, fit={(2136,292) (2192,311)}] (rrowp) {};
\node[fill=ghorange, fit={(2277,298) (2312,311)}, inner sep=0pt] (rrowo) {};
\node[comp, minimum width=2.6mm] (rr1) at (1972,320) {};
\node[comp] (rr2) at (2010,320) {};
\node[comp] (rr3) at (2060,320) {};
\node[comp, minimum width=2.6mm] (rr4) at (2120,320) {};
\node[comp] (rr5) at (2190,320) {};
\node[comp] (rr6) at (2230,320) {};
\draw[wire] (rc1.east) .. controls +(20,0) and +(-20,0) .. (rr1.west);
\draw[wire] (rr1) -- (rr2) -- (rr3) -- (rr4) -- (rr5) -- (rr6);
\draw[wire] (rr6.east) .. controls +(20,0) and +(-20,0) .. (rrowo.west);
\draw[wire] (tmrg2.east) .. controls +(20,0) and +(-30,0) .. (rr1.west);

\node[grp, fit={(2017,166) (2176,190)}] (rtop) {};
\node[dcomp, fit={(2128,137) (2154,178)}] (rtop1) {};
\node[panel, fit={(2189,159) (2248,185)}] (rtop2) {};
\node[panel, fit={(1972,169) (1988,185)}] (rtop3) {};
\node[panel, fit={(2073,140) (2095,159)}] (rtop4) {};
\node[comp] (rt1) at (2035,178) {};
\node[comp] (rt2) at (2065,178) {};
\node[comp] (rt3) at (2100,178) {};
\draw[wire] (rtop3.east) -- (rt1) -- (rt2) -- (rt3) -- (rtop1.west);
\draw[wire] (rtop1.east) -- (rtop2.west);
\draw[wire] (rt2.north) .. controls +(0,-20) and +(-20,0) .. (rtop4.west);

\node[panel, draw=black!40, fit={(2104,379) (2178,411)}] (rnote) {};
\node[comp, minimum width=2.7mm] (rc3) at (1972,434) {};
\draw[wire] (rc3.east) .. controls +(60,0) and +(-20,20) .. (rnote.south west);
\node[note] (needfind) at (2117,518) {need to find / resolve directionality issues when plane is extruded};
\node[panel, draw=black!25, fit={(1923,665) (1995,740)}] (rbox) {};
\node[fill=black!50, minimum width=4mm, minimum height=0.15mm, inner sep=0pt] (rboxt) at (1959,700) {};

\node[grp, fit={(1937,558) (2128,600)}] (rmid) {};
\node[comp, minimum width=2.6mm] (rm1) at (1958,575) {};
\node[comp] (rm2) at (1990,580) {};
\node[comp] (rm3) at (2030,575) {};
\node[comp] (rm4) at (2065,572) {};
\node[comp, minimum width=2.6mm] (rm5) at (2100,575) {};
\node[comp] (rm6) at (2040,590) {};
\draw[wire] (rm1) -- (rm2) -- (rm3) -- (rm4) -- (rm5);
\draw[wire] (rm2) -- (rm6);
\draw[wire] (bmrg2.east) .. controls +(30,0) and +(-30,0) .. (rm1.west);
\draw[wire] (rm3.north) .. controls +(0,-80) and +(0,60) .. (rnote.south);
\foreach \i/\x in {1/2160,2/2185,3/2212,4/2240,5/2268} {
  \node[comp, minimum width=2mm] (rs\i) at (\x,569) {};
}
\draw[wire] (rm5) -- (rs1) -- (rs2) -- (rs3) -- (rs4) -- (rs5);

\node[fill=xlgreen, fit={(2357,368) (2419,383)}, inner sep=0pt] (xlpath) {};
\node[fill=ghyellow, fit={(2375,374) (2410,381)}, inner sep=0pt] (xlpathy) {};
\node[fill=xlpink, fit={(2357,387) (2481,435)}, inner sep=0pt] (xlfloor) {};
\node[fill=xlbeige, fit={(2357,480) (2486,531)}, inner sep=0pt] (xladapt) {};
\node[note, anchor=west] (xlpatht) at (2360,371) {Excel File Path};
\node[note, anchor=west] (xlfloort) at (2360,390) {Floor Example};
\node[note, anchor=west] (xladaptt) at (2362,484) {Adaptive Component Example};
\node[dcomp, fit={(2465,396) (2478,418)}] (xlf1) {};
\node[fill=ghyellow, minimum width=1.2mm, minimum height=0.6mm, inner sep=0pt] (xlf2) at (2372,398) {};
\node[dcomp] (xlf3) at (2378,410) {};
\node[dcomp] (xlf4) at (2400,410) {};
\node[dcomp, minimum height=1.8mm] (xlf5) at (2415,407) {};
\node[dcomp] (xlf6) at (2438,405) {};
\node[dcomp] (xlf7) at (2425,423) {};
\node[blk] (xlf8) at (2458,396) {};
\draw[wire] (xlf3) -- (xlf4) -- (xlf5);
\node[dcomp, fit={(2470,483) (2483,507)}] (xla1x) {};
\node[blk] (xla1) at (2460,483) {};
\node[comp, fill=ghyellow!40] (xla2) at (2365,493) {};
\node[dcomp] (xla3) at (2378,502) {};
\node[dcomp] (xla4) at (2392,508) {};
\node[dcomp] (xla5) at (2410,503) {};
\node[dcomp] (xla6) at (2425,503) {};
\node[dcomp] (xla7) at (2400,520) {};
\node[dcomp] (xla8) at (2425,520) {};
\node[dcomp] (xla9) at (2445,518) {};
\node[dcomp] (xla10) at (2462,520) {};
\draw[wire] (xla3) -- (xla4) -- (xla5) -- (xla6);
\draw[wire] (xla7) -- (xla8) -- (xla9) -- (xla10);
\draw[draw=redwire, line width=0.3pt] (xla2.east) -- (xla1x.west);
\draw[draw=redwire, line width=0.3pt] (xlpathy.east) .. controls +(40,0) and +(-20,0) .. (xlf8.west);
\draw[draw=redwire, line width=0.3pt] (xlf2.east) -- (xlf1.west);
\draw[draw=redwire, line width=0.3pt] (xlf8.south) .. controls +(0,50) and +(0,-50) .. (xla1.north);

% bottom right
\node[grp, fit={(2143,757) (2449,786)}] (rb1) {};
\node[panel, fit={(2296,757) (2380,770)}] (rb1p) {};
\node[fill=ghteal, draw=compline, line width=0.15pt, minimum width=1.6mm, minimum height=0.9mm, inner sep=0pt] (rb1t) at (2224,777) {};
\node[comp] (rb1a) at (2160,778) {};
\node[comp] (rb1b) at (2195,775) {};
\node[comp] (rb1c) at (2260,778) {};
\node[comp] (rb1d) at (2300,778) {};
\node[comp] (rb1e) at (2340,778) {};
\draw[wire] (rb1a) -- (rb1b) -- (rb1t) -- (rb1c) -- (rb1d) -- (rb1e);
\node[grp, fit={(2127,980) (2440,1012)}] (rb2) {};
\node[comp] (rb2a) at (2145,998) {};
\node[comp] (rb2b) at (2190,995) {};
\node[comp] (rb2c) at (2240,1000) {};
\node[comp] (rb2d) at (2290,993) {};
\node[comp] (rb2e) at (2340,998) {};
\node[comp] (rb2f) at (2390,996) {};
\node[comp] (rb2g) at (2425,1000) {};
\draw[wire] (rb2a) -- (rb2b) -- (rb2c) -- (rb2d) -- (rb2e) -- (rb2f) -- (rb2g);
\node[comp, minimum width=2.2mm] (tiny) at (2022,876) {};
\node[comp] (tiny2) at (2012,888) {};
\draw[wire] (tiny.east) .. controls +(80,0) and +(-80,0) .. (rb1a.west);
\draw[wire] (tiny.east) .. controls +(150,0) and +(-150,0) .. (rb2a.west);
\draw[wire] (gg1.east) .. controls +(20,0) and +(-20,0) .. (rb1a.west);
\draw[wire] (g2c17.east) .. controls +(20,0) and +(-20,0) .. (rb2a.west);
\node[grp, fit={(2017,1044) (2152,1084)}] (rb3) {};
\node[panel, fit={(2020,1049) (2050,1075)}] (rb3p) {};
\node[fill=ghpink, fit={(2100,1052) (2150,1068)}, inner sep=0pt] (rb3c) {};
\node[comp] (rb3a) at (2075,1060) {};
\draw[wire] (rb3p.east) -- (rb3a) -- (rb3c.west);
\draw[wire] (g2c17.east) .. controls +(60,0) and +(-60,0) .. (rb3p.west);
\draw[wire] (tiny2.west) .. controls +(-80,0) and +(80,0) .. (gg2.north east);

% bottom left
\node[fill=lightarea, fit={(59,767) (327,866)}, inner sep=0pt] (blarea) {};
\node[comp, fit={(310,685) (322,695)}] (blk1) {};
\node[comp, fit={(310,706) (322,717)}] (blk2) {};
\foreach \i in {1,...,6} {
  \node[panel, minimum width=1.7mm, minimum height=0.7mm] (blw\i) at (240,{660+\i*8}) {};
  \draw[wire] (blw\i.east) .. controls +(30,0) and +(-30,0) .. (blk1.west);
}
\foreach \i in {1,...,5} {
  \node[panel, minimum width=1.7mm, minimum height=0.7mm] (blv\i) at (275,{698+\i*7}) {};
  \draw[wire] (blv\i.east) .. controls +(20,0) and +(-20,0) .. (blk2.west);
}
\node[fill=ghpurple, fit={(327,677) (407,717)}, inner sep=0pt] (blpur) {};
\node[fill=ghyellow, fit={(382,679) (405,698)}, inner sep=0pt] (blpy1) {};
\node[fill=ghyellow, fit={(328,687) (345,707)}, inner sep=0pt] (blpy2) {};
\node[dcomp, fit={(358,698) (373,705)}] (blpg) {};
\node[fill=ghyellow, fit={(408,678) (433,703)}, inner sep=0pt] (blpy3) {};
\node[fill=ghviolet, rounded corners=0.3mm, fit={(326,721) (417,730)}, inner sep=0pt] (blbar) {};
\draw[wire] (blk1.east) -- (blpy2.west);
\draw[wire] (blpy1.east) -- (blpy3.west);
\node[circle, fill=ghorange, minimum size=2.6mm, inner sep=0pt] (cir1) at (337,743) {};
\node[fill=ghcyan, minimum width=1.9mm, minimum height=0.8mm, inner sep=0pt] (cir1b) at (338,743) {};
\node[circle, fill=ghteal, minimum size=2.6mm, inner sep=0pt] (cir2) at (368,743) {};
\node[circle, fill=ghviolet, minimum size=2.4mm, inner sep=0pt] (cir3) at (405,743) {};
\node[circle, fill=ghviolet, minimum size=1.8mm, inner sep=0pt] (cir4) at (338,767) {};
\node[circle, fill=ghteal, minimum size=2.8mm, inner sep=0pt] (cir5) at (367,772) {};
\node[circle, fill=ghviolet, minimum size=2.8mm, inner sep=0pt] (cir6) at (409,773) {};
\node[fill=grpgray, fit={(429,732) (487,751)}, inner sep=0pt] (blchart) {};
\fill[ghpink] (430,750) -- (430,738) -- (450,738) -- (450,736) -- (465,736) -- (465,734) -- (472,734) -- (472,738) -- (479,738) -- (479,748) -- (487,748) -- (487,750) -- cycle;
\node[panel, fit={(426,753) (447,767)}] (blchp) {};
\draw[wire] (cir3.east) -- (blchart.west);
\node[fill=ghcyan, fit={(253,768) (325,779)}, inner sep=0pt] (blcyan) {};
\node[fill=limegrp, fit={(250,783) (282,797)}, inner sep=0pt] (blg1) {};
\node[fill=limegrp, fit={(250,800) (282,813)}, inner sep=0pt] (blg2) {};
\node[fill=limegrp, fit={(250,815) (282,828)}, inner sep=0pt] (blg3) {};
\node[panel, fit={(226,772) (248,863)}] (blcol) {};
\node[panel, fit={(252,838) (293,863)}] (blpan) {};
\node[comp] (blo1) at (290,806) {};
\node[comp] (blo2) at (300,855) {};
\draw[wire] (blg2.east) -- (blo1.west);
\draw[wire] (blpan.east) -- (blo2.west);
\foreach \i/\y in {1/788,2/799,3/819,4/830} {
  \node[comp, minimum width=1.5mm, minimum height=0.5mm] (bla\i) at (78,\y) {};
  \node[comp, minimum width=1.2mm, minimum height=0.6mm] (blb\i) at (112,\y) {};
  \node[comp, minimum width=1.2mm, minimum height=0.6mm] (blc\i) at (145,\y) {};
  \node[blk] (bld\i) at (165,{\y+3}) {};
  \draw[wire] (bla\i) -- (blb\i) -- (blc\i) -- (bld\i);
  \draw[wire] (bld\i.east) .. controls +(30,0) and +(-30,0) .. (blcol.west);
}
\node[comp] (ble1) at (210,850) {};
\node[comp] (ble2) at (210,858) {};
\draw[wire] (bld2.east) .. controls +(20,0) and +(-20,0) .. (ble1.west);
\draw[wire] (bld4.east) .. controls +(20,0) and +(-20,0) .. (ble2.west);
\draw[wire] (ble1) -- (blcol.west);
\node[panel, fit={(329,784) (386,790)}] (blr1) {};
\node[panel, fit={(328,797) (370,803)}] (blr2) {};
\node[comp] (blr3) at (320,806) {};
\draw[wire] (blcyan.south) .. controls +(0,20) and +(-20,0) .. (blr3.west);
\node[grp, fit={(327,813) (458,855)}] (blg4) {};
\node[grp, fit={(331,857) (457,899)}] (blg5) {};
\node[panel, fit={(329,817) (363,827)}] (blg4p) {};
\node[panel, fit={(389,830) (435,853)}] (blg4q) {};
\node[panel, fit={(333,861) (364,871)}] (blg5p) {};
\node[panel, fit={(389,873) (435,896)}] (blg5q) {};
\node[comp] (blg4a) at (340,838) {};
\node[comp] (blg4b) at (365,838) {};
\node[comp] (blg5a) at (340,880) {};
\node[comp] (blg5b) at (365,880) {};
\node[comp] (blg4c) at (445,830) {};
\node[comp] (blg5c) at (445,873) {};
\draw[wire] (blg4a) -- (blg4b) -- (blg4q.west);
\draw[wire] (blg5a) -- (blg5b) -- (blg5q.west);
\draw[wire] (blg4p.east) .. controls +(40,0) and +(-40,0) .. (blg4c.west);
\draw[wire] (blg5p.east) .. controls +(40,0) and +(-40,0) .. (blg5c.west);
\draw[wire] (blr1.east) .. controls +(30,0) and +(-30,0) .. (blg4c.west);
\node[grp, fit={(505,805) (628,837)}] (blg6) {};
\node[grp, fit={(504,847) (627,879)}] (blg7) {};
\node[panel, fit={(540,812) (600,830)}] (blg6p) {};
\node[panel, fit={(540,854) (600,872)}] (blg7p) {};
\node[comp] (blg6a) at (518,822) {};
\node[comp] (blg7a) at (518,864) {};
\node[comp] (blg6b) at (615,820) {};
\node[comp] (blg7b) at (615,862) {};
\draw[wire] (blg6a) -- (blg6p.west); \draw[wire] (blg6p.east) -- (blg6b);
\draw[wire] (blg7a) -- (blg7p.west); \draw[wire] (blg7p.east) -- (blg7b);
\draw[wire] (blchp.east) .. controls +(40,0) and +(-40,0) .. (blg6a.west);
\draw[wire] (blchp.east) .. controls +(40,0) and +(-40,0) .. (blg7a.west);
\end{tikzpicture}
\end{document}
